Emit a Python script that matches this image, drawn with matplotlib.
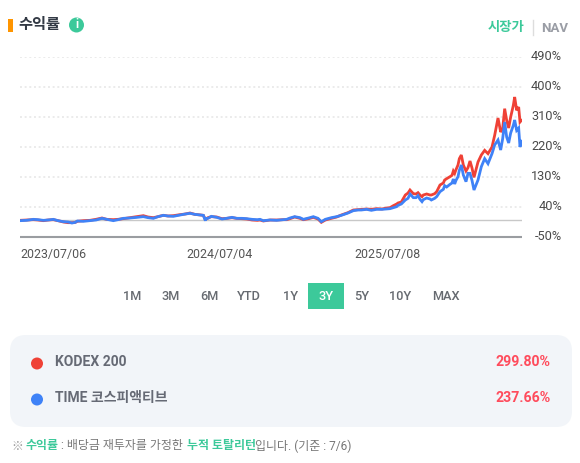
import matplotlib
matplotlib.use('Agg')
import matplotlib.pyplot as plt
from matplotlib.patches import FancyBboxPatch, Rectangle, Circle

plt.rcParams['font.family'] = ['Roboto', 'Noto Sans CJK KR', 'DejaVu Sans']

W, H = 580, 463

# trading days since 2023/07/06, the chart spans about 750 of them
days = [0, 10, 20, 27, 35, 42, 50, 57, 65, 72, 78, 83, 86, 95, 105, 114, 123, 130, 140, 147, 155,
        165, 176, 185, 192, 200, 207, 215, 222, 230, 240, 248, 255, 262, 270, 275, 278, 279, 282, 287,
        295, 303, 310, 318, 325, 333, 340, 348, 356, 360, 365, 375, 385, 395, 400, 405, 412, 420, 425,
        433, 440, 447, 452, 458, 467, 475, 482, 492, 500, 507, 512, 520, 527, 535, 543, 550, 555, 560,
        565, 567, 572, 578, 582, 585, 590, 594, 597, 600, 603, 605, 610, 615, 617, 622, 625, 630, 635,
        637, 640, 645, 648, 650, 652, 654, 657, 659, 662, 665, 669, 672, 675, 678, 681, 687, 692, 697,
        702, 708, 712, 717, 721, 724, 727, 730, 733, 736, 740, 742, 745, 748, 750, 752]
kodex = [0, 1, 2, 1, -1, 1, 2, -1, -5, -7, -7, -6, -3, -1, 0, 3, 7, 3, 2, 3, 5,
         8, 11, 14, 10, 8, 11, 15, 13, 14, 17, 19, 22, 18, 16, 15, 3, 3, 8, 11,
         10, 5, 6, 8, 6, 5, 4, 1, 0, 1, -2, 1, 1, 2, 2, 5, 10, 6, 2,
         5, 9, 4, -6, 1, 6, 10, 16, 23, 31, 32, 33, 34, 33, 35, 34, 37, 38, 44,
         49, 52, 55, 76, 82, 91, 80, 79, 83, 76, 71, 76, 79, 76, 76, 80, 86, 106, 112,
         121, 125, 131, 135, 148, 141, 152, 166, 185, 196, 166, 148, 158, 178, 157, 129, 175, 196, 210,
         200, 220, 255, 307, 265, 275, 335, 300, 277, 310, 345, 370, 330, 340, 295, 299.8]
time_ = [-1, 0, 3, 2, 0, 1, 3, -1, -4, -5, -8, -6, -2, -3, -1, 1, 6, 3, -1, 2, 6,
         7, 9, 11, 8, 6, 11, 15, 13, 12, 16, 19, 21, 18, 16, 15, -1, 6, 6, 12,
         9, 4, 6, 9, 6, 6, 5, 3, 2, 3, -1, 1, 0, 2, 3, 7, 11, 8, 3,
         7, 11, 6, -4, 3, 8, 11, 15, 22, 29, 31, 31, 33, 30, 33, 33, 34, 35, 38,
         41, 45, 49, 61, 66, 79, 68, 68, 74, 63, 56, 62, 67, 64, 61, 66, 71, 86, 93,
         104, 100, 108, 112, 124, 109, 120, 131, 150, 166, 136, 116, 141, 141, 120, 91, 121, 161, 185,
         170, 200, 226, 241, 211, 245, 295, 250, 232, 262, 285, 301, 270, 277, 220, 237.66]

y_ticks = [490, 400, 310, 220, 130, 40, -50]
y_labels = ['490%', '400%', '310%', '220%', '130%', '40%', '-50%']
x_ticks = [0, 250, 502]
x_labels = ['2023/07/06', '2024/07/04', '2025/07/08']
periods = ['1M', '3M', '6M', 'YTD', '1Y', '3Y', '5Y', '10Y', 'MAX']
period_x = [132, 171, 209, 249, 291, 326, 362, 400, 446]
names = ['KODEX 200', 'TIME 코스피액티브']
returns = ['299.80%', '237.66%']
series_colors = ['#EF4136', '#3F82F7']

fig = plt.figure(figsize=(W / 100, H / 100), dpi=100)

# page layer in pixel coordinates
page = fig.add_axes([0, 0, 1, 1])
page.set_xlim(0, W)
page.set_ylim(H, 0)
page.axis('off')

# chart axes: y 490% sits at pixel 57, -50% at pixel 237
ax = fig.add_axes([20 / W, 1 - 237 / H, 502 / W, 180 / H])
ax.set_xlim(0, 753)
ax.set_ylim(-50, 490)
ax.patch.set_alpha(0)
for s in ['top', 'right', 'left']:
    ax.spines[s].set_visible(False)
ax.spines['bottom'].set_color('#9A9DA1')
ax.spines['bottom'].set_linewidth(1.5)
ax.spines['bottom'].set_capstyle('butt')
ax.set_yticks(y_ticks[:-1])
ax.set_yticklabels([])
ax.set_xticks(x_ticks)
ax.set_xticklabels(x_labels, ha='left', fontsize=8.9, color='#555555')
ax.tick_params(length=0, pad=8)
ax.yaxis.grid(True, color='#EBEBEB', linestyle=(0, (1, 1.4)), linewidth=1.4)
ax.axhline(0, color='#C8C8C8', linewidth=1)
ax.plot(days, kodex, color=series_colors[0], linewidth=2, solid_joinstyle='miter')
ax.plot(days, time_, color=series_colors[1], linewidth=2, solid_joinstyle='miter')

for v, lab in zip(y_ticks, y_labels):
    page.text(562, 237 - (v + 50) / 3, lab, ha='right', va='center', fontsize=9.2, color='#4A4A4A')

# header
page.add_patch(Rectangle((8, 19), 5, 13, color='#FF9500', lw=0))
page.text(18, 25, '수익률', fontsize=11, fontweight='bold', color='#333A45', va='center')
page.add_patch(Circle((76.5, 25), 7.5, color='#3CC99A', lw=0))
page.text(76.5, 25, 'i', fontsize=8.5, fontweight='bold', color='white', ha='center', va='center')
page.text(524, 28, '시장가', fontsize=9.6, fontweight='bold', color='#3CC99A', ha='right', va='center')
page.plot([532.5, 532.5], [20, 35], color='#DDDDDD', lw=1)
page.text(541, 28.5, 'NAV', fontsize=9.5, fontweight='bold', color='#9A9DA5', ha='left', va='center')

# period buttons
page.add_patch(Rectangle((308, 283), 36, 26, color='#3CC99A', lw=0))
for px, lab in zip(period_x, periods):
    page.text(px, 296.5, lab, ha='center', va='center', fontsize=9.2, fontweight='medium',
              color='white' if lab == '3Y' else '#666A70')

# summary box
page.add_patch(FancyBboxPatch((10 + 16, 335 + 16), 562 - 32, 92 - 32,
                              boxstyle='round,pad=16,rounding_size=16', fc='#F2F5F9', ec='none'))
for py, name, ret, col in zip([362, 398], names, returns, series_colors):
    page.add_patch(Circle((37, py + 1.5), 6, color=col, lw=0))
    page.text(55, py, name, fontsize=10, fontweight='bold', color='#666A75', va='center')
    page.text(551, py, ret, fontsize=10.2, fontweight='bold', color='#FF4B5C', ha='right', va='center')

# footnote
foot = [(11, '※', '#999999', 'normal'), (25, '수익률', '#3CC99A', 'bold'),
        (61, ': 배당금 재투자를 가정한', '#777777', 'normal'),
        (187, '누적 토탈리턴', '#3CC99A', 'bold'),
        (255, '입니다. (기준 : 7/6)', '#777777', 'normal')]
for px, txt, col, wt in foot:
    page.text(px, 446, txt, fontsize=8.6, color=col, fontweight=wt, va='center')

fig.savefig('out.png', dpi=100)
